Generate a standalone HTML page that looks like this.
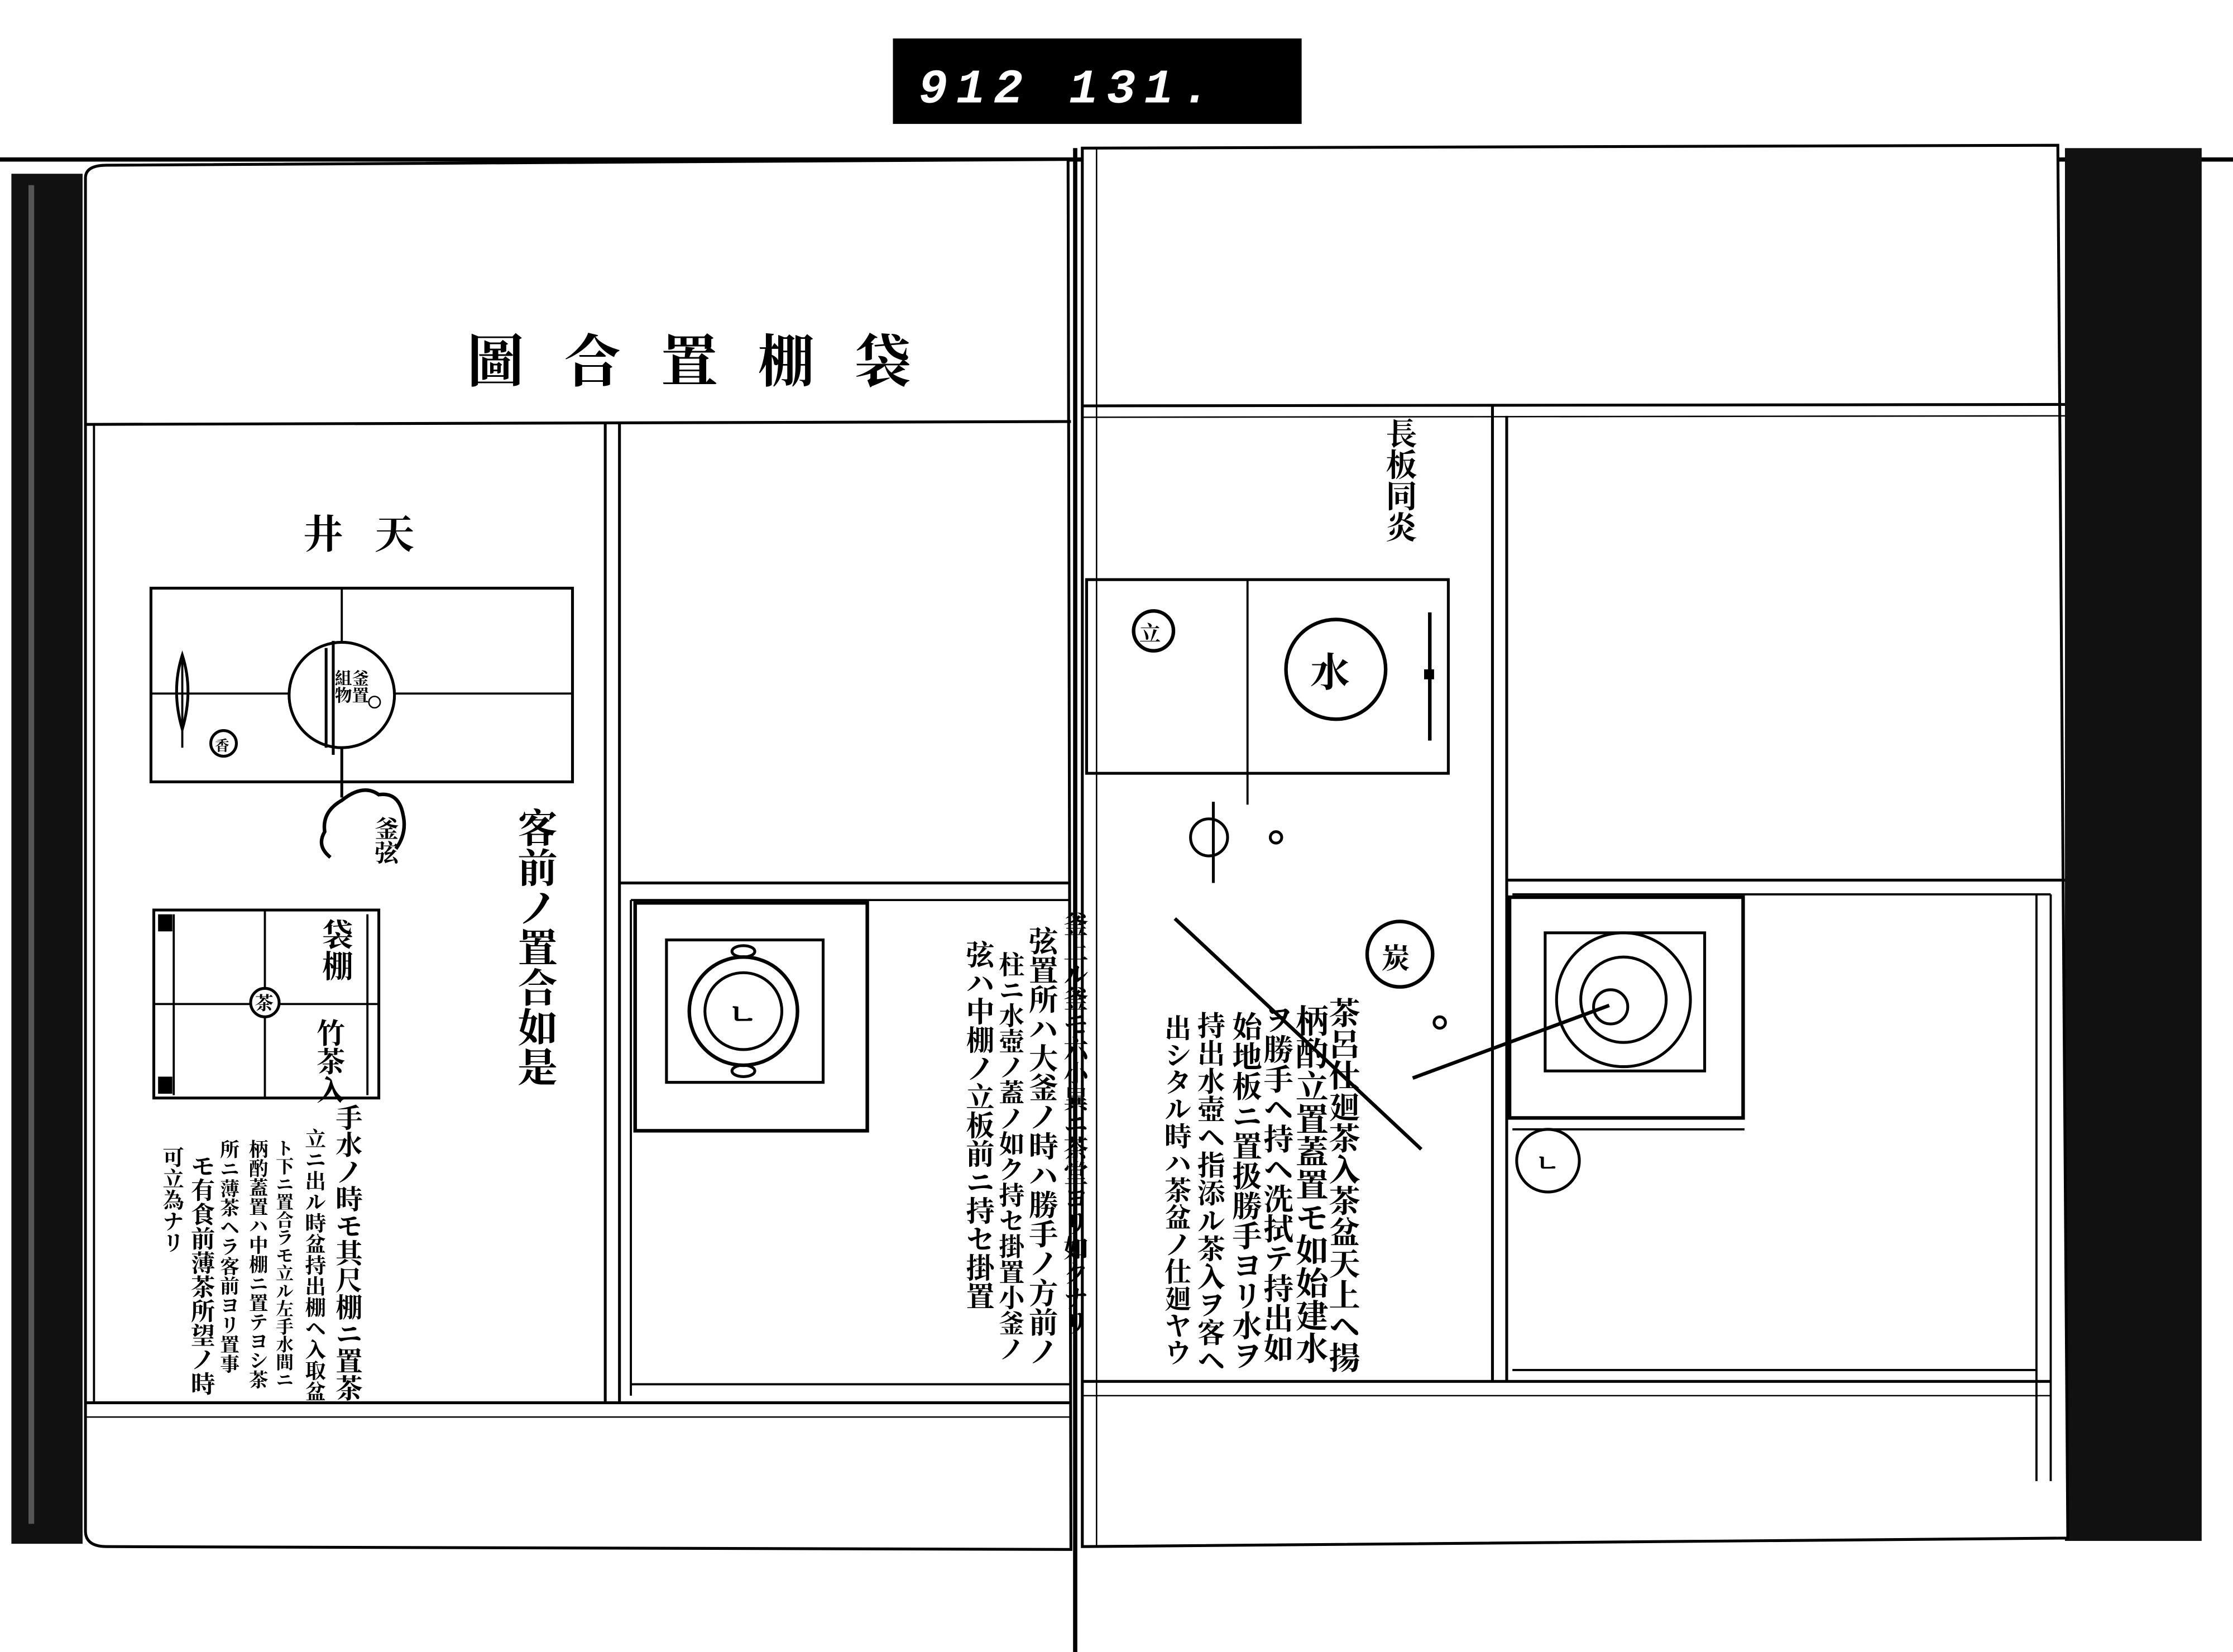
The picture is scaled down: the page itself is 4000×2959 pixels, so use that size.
<!DOCTYPE html>
<html><head><meta charset="utf-8"><style>
html,body{margin:0;padding:0;background:#fff;}
svg{display:block;}
text{font-family:"Liberation Serif","Noto Serif CJK SC","Noto Sans CJK JP",serif;fill:#000;font-weight:bold;}
.v{writing-mode:vertical-rl;}
</style></head><body>
<svg width="4000" height="2959" viewBox="0 0 1568 1160" preserveAspectRatio="none" xmlns="http://www.w3.org/2000/svg">
<rect width="1568" height="1160" fill="#fff"/>
<rect x="627" y="27" width="287" height="60" fill="#000"/>
<text x="645" y="72" font-size="34" style="fill:#fff;font-family:'Liberation Mono',monospace;font-style:italic" letter-spacing="6">912  131.</text>
<line x1="0" y1="112" x2="1568" y2="112" stroke="#000" stroke-width="3"/>
<rect x="8" y="122" width="50" height="962" fill="#111"/>
<rect x="20" y="130" width="4" height="940" fill="#555"/>
<rect x="1450" y="104" width="96" height="978" fill="#111"/>
<path d="M60 125 Q60 116 75 116 L750 112 L752 1088 L75 1086 Q60 1086 60 1075 Z" fill="#fff" stroke="#000" stroke-width="2"/>
<path d="M760 104 L1445 102 L1452 1080 L760 1086 Z" fill="#fff" stroke="#000" stroke-width="2"/>
<line x1="755" y1="104" x2="755" y2="1160" stroke="#000" stroke-width="3"/>
<line x1="770" y1="104" x2="770" y2="1085" stroke="#000" stroke-width="1"/>
<text x="328" y="268" font-size="40" letter-spacing="28">圖合置棚袋</text>
<line x1="60" y1="298" x2="752" y2="296" stroke="#000" stroke-width="2"/>
<line x1="760" y1="285" x2="1450" y2="284" stroke="#000" stroke-width="2"/>
<line x1="760" y1="293" x2="1450" y2="292" stroke="#000" stroke-width="1"/>
<line x1="60" y1="985" x2="752" y2="985" stroke="#000" stroke-width="2"/>
<line x1="60" y1="995" x2="752" y2="995" stroke="#000" stroke-width="1"/>
<line x1="760" y1="970" x2="1440" y2="970" stroke="#000" stroke-width="2"/>
<line x1="760" y1="980" x2="1440" y2="980" stroke="#000" stroke-width="1"/>
<line x1="66" y1="298" x2="66" y2="985" stroke="#000" stroke-width="1.5"/>
<line x1="425" y1="296" x2="425" y2="985" stroke="#000" stroke-width="2"/>
<line x1="435" y1="296" x2="435" y2="985" stroke="#000" stroke-width="2"/>
<line x1="435" y1="620" x2="752" y2="620" stroke="#000" stroke-width="2"/>
<line x1="443" y1="632" x2="752" y2="632" stroke="#000" stroke-width="1.5"/>
<line x1="443" y1="632" x2="443" y2="980" stroke="#000" stroke-width="1.5"/>
<line x1="443" y1="972" x2="752" y2="972" stroke="#000" stroke-width="1.5"/>
<rect x="446" y="634" width="163" height="160" fill="none" stroke="#000" stroke-width="2.5"/>
<rect x="468" y="660" width="110" height="100" fill="none" stroke="#000" stroke-width="2"/>
<circle cx="522" cy="710" r="38" fill="none" stroke="#000" stroke-width="2.5"/>
<circle cx="522" cy="710" r="27" fill="none" stroke="#000" stroke-width="2"/>
<ellipse cx="522" cy="668" rx="8" ry="4" fill="none" stroke="#000" stroke-width="2"/>
<ellipse cx="522" cy="752" rx="8" ry="4" fill="none" stroke="#000" stroke-width="2"/>
<text x="511" y="720" font-size="22">ㄴ</text>
<text x="213" y="385" font-size="28" letter-spacing="22">井天</text>
<rect x="106" y="413" width="296" height="136" fill="none" stroke="#000" stroke-width="2"/>
<line x1="240" y1="413" x2="240" y2="549" stroke="#000" stroke-width="1.5"/>
<line x1="106" y1="487" x2="402" y2="487" stroke="#000" stroke-width="1.5"/>
<circle cx="240" cy="488" r="37" fill="#fff" stroke="#000" stroke-width="2"/>
<line x1="229" y1="455" x2="229" y2="525" stroke="#000" stroke-width="2"/>
<line x1="234" y1="450" x2="234" y2="530" stroke="#000" stroke-width="2"/>
<text x="252" y="470" class="v" font-size="12">釜置</text>
<text x="240" y="470" class="v" font-size="12">組物</text>
<circle cx="263" cy="493" r="4" fill="none" stroke="#000"/>
<path d="M128 460 Q120 485 128 512 Q136 485 128 460 Z" fill="none" stroke="#000" stroke-width="2"/>
<line x1="128" y1="460" x2="128" y2="525" stroke="#000" stroke-width="1.5"/>
<circle cx="157" cy="522" r="9" fill="none" stroke="#000" stroke-width="2"/>
<text x="151" y="527" font-size="10">香</text>
<line x1="240" y1="525" x2="240" y2="560" stroke="#000" stroke-width="2"/>
<path d="M232 602 Q222 594 228 584 Q226 570 240 562 Q255 550 266 558 Q280 556 283 572 Q286 585 278 596" fill="none" stroke="#000" stroke-width="2.5"/>
<text x="270" y="573" class="v" font-size="17">釜弦</text>
<text x="375" y="567" class="v" font-size="28">客前ノ置合如是</text>
<rect x="108" y="639" width="158" height="132" fill="none" stroke="#000" stroke-width="2"/>
<rect x="111" y="642" width="10" height="12" fill="#000"/>
<rect x="111" y="756" width="10" height="12" fill="#000"/>
<line x1="122" y1="642" x2="122" y2="769" stroke="#000" stroke-width="1.5"/>
<line x1="258" y1="642" x2="258" y2="769" stroke="#000" stroke-width="1.5"/>
<line x1="186" y1="639" x2="186" y2="771" stroke="#000" stroke-width="1.5"/>
<line x1="108" y1="705" x2="266" y2="705" stroke="#000" stroke-width="1.5"/>
<circle cx="186" cy="704" r="10" fill="#fff" stroke="#000" stroke-width="2"/>
<text x="179" y="709" font-size="13">茶</text>
<text x="235" y="645" class="v" font-size="22">袋棚</text>
<text x="230" y="715" class="v" font-size="20">竹茶入</text>
<!-- left lower text -->
<text x="243" y="775" class="v" font-size="19">手水ノ時モ其尺棚ニ置茶</text>
<text x="220" y="792" class="v" font-size="14.8">立ニ出ル時盆持出棚ヘ入取盆</text>
<text x="199" y="800" class="v" font-size="12.5">ト下ニ置合ラモ立ル左手水間ニ</text>
<text x="180" y="800" class="v" font-size="13.5">柄酌蓋置ハ中棚ニ置テヨシ茶</text>
<text x="160" y="800" class="v" font-size="13.7">所ニ薄茶ヘラ客前ヨリ置事</text>
<text x="141" y="810" class="v" font-size="17">モ有食前薄茶所望ノ時</text>
<text x="120" y="805" class="v" font-size="15">可立為ナリ</text>
<!-- mid text -->
<text x="754" y="640" class="v" font-size="17.5">釜上ル釜モ六小異ニ茶堂ヨリ如クナリ</text>
<text x="731" y="650" class="v" font-size="20.6">弦置所ハ大釜ノ時ハ勝手ノ方前ノ</text>
<text x="709" y="668" class="v" font-size="18">柱ニ水壺ノ蓋ノ如ク持セ掛置小釜ノ</text>
<text x="686" y="660" class="v" font-size="20">弦ハ中棚ノ立板前ニ持セ掛置</text>
<!-- right page -->
<text x="982" y="293" class="v" font-size="22">長板同炎</text>
<line x1="1048" y1="285" x2="1048" y2="970" stroke="#000" stroke-width="2"/>
<line x1="1058" y1="292" x2="1058" y2="970" stroke="#000" stroke-width="2"/>
<rect x="763" y="407" width="254" height="136" fill="none" stroke="#000" stroke-width="2"/>
<line x1="876" y1="407" x2="876" y2="565" stroke="#000" stroke-width="1.5"/>
<circle cx="810" cy="443" r="14" fill="none" stroke="#000" stroke-width="2.5"/>
<text x="800" y="450" font-size="15">立</text>
<circle cx="938" cy="470" r="35" fill="none" stroke="#000" stroke-width="2.5"/>
<text x="920" y="482" font-size="28">水</text>
<line x1="1004" y1="430" x2="1004" y2="520" stroke="#000" stroke-width="2.5"/>
<rect x="1000" y="470" width="7" height="7" fill="#000"/>
<circle cx="849" cy="588" r="13" fill="none" stroke="#000" stroke-width="2"/>
<line x1="852" y1="563" x2="852" y2="620" stroke="#000" stroke-width="2"/>
<circle cx="896" cy="588" r="4" fill="none" stroke="#000" stroke-width="2"/>
<circle cx="983" cy="670" r="23" fill="none" stroke="#000" stroke-width="2.5"/>
<text x="970" y="680" font-size="20">炭</text>
<circle cx="1011" cy="718" r="4" fill="none" stroke="#000" stroke-width="2"/>
<line x1="825" y1="645" x2="998" y2="807" stroke="#000" stroke-width="2.5"/>
<line x1="992" y1="757" x2="1130" y2="706" stroke="#000" stroke-width="2.5"/>
<line x1="1058" y1="618" x2="1450" y2="618" stroke="#000" stroke-width="2"/>
<line x1="1062" y1="628" x2="1440" y2="628" stroke="#000" stroke-width="1.5"/>
<rect x="1060" y="630" width="164" height="155" fill="none" stroke="#000" stroke-width="2.5"/>
<rect x="1085" y="655" width="112" height="97" fill="none" stroke="#000" stroke-width="2"/>
<circle cx="1140" cy="702" r="47" fill="none" stroke="#000" stroke-width="2"/>
<circle cx="1140" cy="702" r="30" fill="none" stroke="#000" stroke-width="2"/>
<circle cx="1131" cy="707" r="12" fill="none" stroke="#000" stroke-width="2"/>
<line x1="1062" y1="793" x2="1225" y2="793" stroke="#000" stroke-width="1.5"/>
<circle cx="1087" cy="815" r="22" fill="none" stroke="#000" stroke-width="2"/>
<text x="1078" y="823" font-size="18">ㄴ</text>
<line x1="1430" y1="628" x2="1430" y2="1040" stroke="#000" stroke-width="1.5"/>
<line x1="1440" y1="628" x2="1440" y2="1040" stroke="#000" stroke-width="1.5"/>
<line x1="1062" y1="962" x2="1430" y2="962" stroke="#000" stroke-width="1.5"/>
<!-- right text -->
<text x="942" y="700" class="v" font-size="22">茶呂仕廻茶入茶盆天上ヘ揚</text>
<text x="919" y="705" class="v" font-size="23">柄酌立置蓋置モ如始建水</text>
<text x="896" y="705" class="v" font-size="21">ヲ勝手ヘ持ヘ洗拭テ持出如</text>
<text x="874" y="710" class="v" font-size="21">始地板ニ置扱勝手ヨリ水ヲ</text>
<text x="849" y="710" class="v" font-size="19.6">持出水壺ヘ指添ル茶入ヲ客ヘ</text>
<text x="825" y="712" class="v" font-size="19">出シタル時ハ茶盆ノ仕廻ヤウ</text>
</svg>
</body></html>
